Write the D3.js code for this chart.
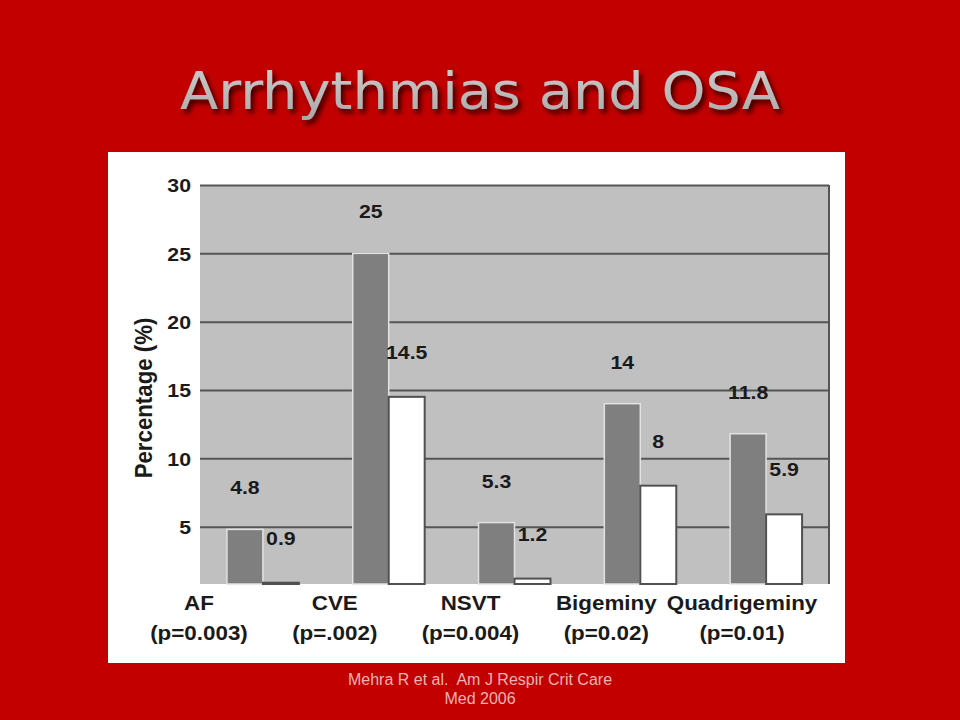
<!DOCTYPE html>
<html>
<head>
<meta charset="utf-8">
<script src="https://cdn.jsdelivr.net/npm/d3@7"></script>
<style>
  html, body { margin: 0; padding: 0; background: #c20000; }
  svg { display: block; }
</style>
</head>
<body>
<svg id="chart" width="960" height="720"></svg>
<script>
const categories = ["AF", "CVE", "NSVT", "Bigeminy", "Quadrigeminy"];
const pValues = ["(p=0.003)", "(p=.002)", "(p=0.004)", "(p=0.02)", "(p=0.01)"];
const osaValues = [4.8, 25, 5.3, 14, 11.8];
const noOsaValues = [0.9, 14.5, 1.2, 8, 5.9];
const yTicks = [5, 10, 15, 20, 25, 30];
const seriesKeys = ["osa", "noOsa"];

const svg = d3.select("#chart");
const W = 960, H = 720;
const SX = 1.12;

svg.append("rect").attr("width", W).attr("height", H).attr("fill", "#c20000");

const defs = svg.append("defs");
const f = defs.append("filter").attr("id", "shadow").attr("x", "-10%").attr("y", "-30%").attr("width", "120%").attr("height", "160%");
f.append("feDropShadow").attr("dx", 3).attr("dy", 4).attr("stdDeviation", 2.5).attr("flood-color", "#000").attr("flood-opacity", 0.75);
const grad = defs.append("linearGradient").attr("id", "titleGrad").attr("x1", 0).attr("y1", 0).attr("x2", 0).attr("y2", 1);
grad.append("stop").attr("offset", "0%").attr("stop-color", "#cfcfcf");
grad.append("stop").attr("offset", "100%").attr("stop-color", "#a8a8a8");

svg.append("text")
  .attr("x", 480).attr("y", 109)
  .attr("text-anchor", "middle")
  .attr("font-family", "'DejaVu Sans', 'Open Sans', sans-serif")
  .attr("font-size", 52)
  .attr("textLength", 600)
  .attr("lengthAdjust", "spacingAndGlyphs")
  .attr("fill", "url(#titleGrad)")
  .attr("filter", "url(#shadow)")
  .text("Arrhythmias and OSA");

svg.append("rect").attr("x", 108).attr("y", 152).attr("width", 737).attr("height", 511).attr("fill", "#ffffff");

const plot = { left: 200, right: 829, top: 185, bottom: 584 };

const x0 = d3.scaleBand().domain(categories).range([plot.left, plot.right]).paddingInner(0.428).paddingOuter(0.214);
const x1 = d3.scaleBand().domain(seriesKeys).range([0, x0.bandwidth()]);
const y = d3.scaleLinear().domain([0, 30]).range([595, plot.top]);
const labelX = d3.scalePoint().domain(categories).range([199, 742]);

svg.append("rect")
  .attr("x", plot.left).attr("y", plot.top)
  .attr("width", plot.right - plot.left).attr("height", plot.bottom - plot.top)
  .attr("fill", "#c0c0c0");

const place = (sel, fx, fy) => sel.attr("x", 0).attr("y", 0)
  .attr("transform", (d, i) => `translate(${fx(d, i)},${fy(d, i)}) scale(${SX},1)`);

const baseFont = g => g.attr("font-family", "'Liberation Sans', Arial, sans-serif")
  .attr("font-weight", "bold").attr("font-size", 19).attr("fill", "#1a1a1a").attr("text-anchor", "middle");

const yAxis = d3.axisLeft(y).tickValues(yTicks).tickSize(-(plot.right - plot.left)).tickFormat(d3.format("d"));
const gAxis = svg.append("g").attr("transform", `translate(${plot.left},0)`).call(yAxis);
gAxis.select(".domain").remove();
gAxis.selectAll(".tick line").attr("stroke", "#555555").attr("stroke-width", 2);
gAxis.selectAll(".tick text")
  .attr("font-family", "'Liberation Sans', Arial, sans-serif")
  .attr("font-weight", "bold")
  .attr("font-size", 19)
  .attr("fill", "#1a1a1a")
  .attr("dy", "0.36em")
  .attr("x", 0)
  .attr("transform", `translate(-9,0) scale(${SX},1)`);

svg.append("line")
  .attr("x1", plot.right).attr("x2", plot.right)
  .attr("y1", plot.top).attr("y2", plot.bottom)
  .attr("stroke", "#555555").attr("stroke-width", 2);

const data = categories.map((c, i) => ({ cat: c, osa: osaValues[i], noOsa: noOsaValues[i] }));
const groups = svg.append("g").selectAll("g").data(data).join("g")
  .attr("transform", d => `translate(${x0(d.cat)},0)`);

groups.append("rect")
  .attr("x", x1("osa")).attr("width", x1.bandwidth())
  .attr("y", d => y(d.osa)).attr("height", d => plot.bottom - y(d.osa))
  .attr("fill", "#7f7f7f").attr("stroke", "#e2e2e2").attr("stroke-width", 1.5);

groups.append("rect")
  .attr("x", x1("noOsa")).attr("width", x1.bandwidth())
  .attr("y", d => y(d.noOsa)).attr("height", d => plot.bottom - y(d.noOsa))
  .attr("fill", "#ffffff").attr("stroke", "#505050").attr("stroke-width", 2);

groups.append("text")
  .call(baseFont)
  .call(place, () => x1("osa") + x1.bandwidth() / 2, d => y(d.osa) - 35)
  .text(d => String(d.osa));

groups.append("text")
  .call(baseFont)
  .call(place, () => x1("noOsa") + x1.bandwidth() / 2, d => y(d.noOsa) - 38)
  .text(d => String(d.noOsa));

const catG = svg.append("g");
catG.selectAll("text.cat").data(categories).join("text")
  .attr("class", "cat")
  .call(baseFont).attr("font-size", 20)
  .call(place, d => labelX(d), () => 610)
  .text(d => d);
catG.selectAll("text.pv").data(pValues).join("text")
  .attr("class", "pv")
  .call(baseFont).attr("font-size", 20)
  .call(place, (d, i) => labelX(categories[i]), () => 640)
  .text(d => d);

svg.append("text")
  .call(baseFont).attr("font-size", 21)
  .attr("transform", "translate(152,398) rotate(-90) scale(1.06,1.1)")
  .text("Percentage (%)");

const foot = svg.append("g").attr("font-family", "'Liberation Sans', Arial, sans-serif")
  .attr("font-size", 16).attr("fill", "#f0b4b4").attr("text-anchor", "middle");
foot.append("text").attr("x", 480).attr("y", 685).attr("xml:space", "preserve").style("white-space", "pre")
  .text("Mehra R et al.  Am J Respir Crit Care");
foot.append("text").attr("x", 480).attr("y", 704).text("Med 2006");
</script>
</body>
</html>
